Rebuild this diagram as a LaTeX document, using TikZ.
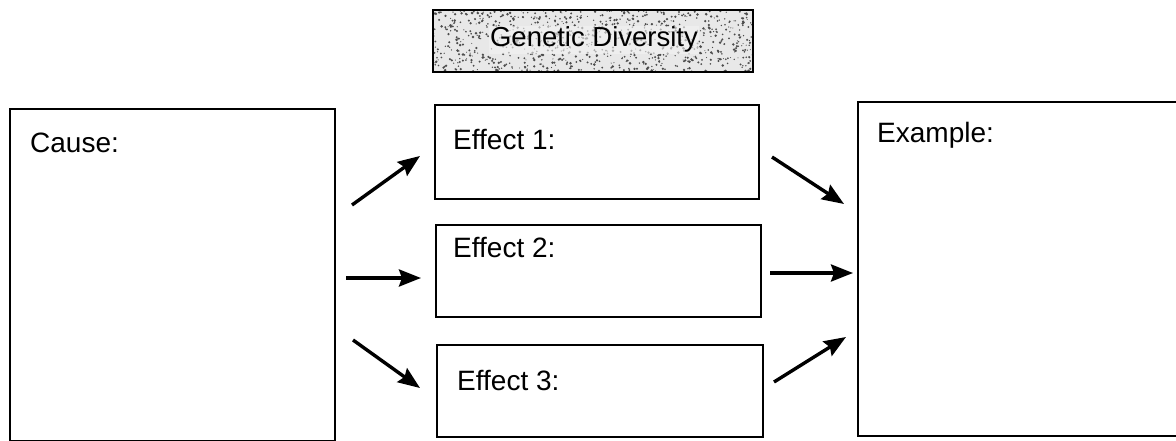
\documentclass[tikz,border=0pt]{standalone}
\usepackage{fontspec}
\setmainfont{Liberation Sans}
\usetikzlibrary{arrows.meta}
\begin{document}
\begin{tikzpicture}[x=1pt,y=-1pt,
  frame/.style={draw=black,line width=2.4pt,fill=none},
  lbl/.style={anchor=base west,inner sep=0pt,font=\fontsize{28}{32}\selectfont},
  conn/.style={line width=3.4pt,-{Stealth[length=22pt,width=17pt,inset=3pt]}}]
  % page area
  \fill[white] (0,0) rectangle (1176,441);
  \useasboundingbox (0,0) rectangle (1176,441);
  \clip (0,0) rectangle (1176,441);

  % title banner with speckled fill
  \fill[gray!18] (433,10) rectangle (753,72);
  \begin{scope}
    \clip (433,10) rectangle (753,72);
    \pgfmathsetseed{42}
    \foreach \i in {1,...,900}{
      \pgfmathsetmacro{\px}{433+320*rnd}
      \pgfmathsetmacro{\py}{10+62*rnd}
      \pgfmathsetmacro{\pr}{0.5+0.9*rnd}
      \fill[black!70] (\px,\py) circle[radius=\pr];
    }
  \end{scope}
  \node[draw=black,line width=2pt,minimum width=320pt,minimum height=62pt,inner sep=0pt] (title) at (593,41) {};
  \node[anchor=base,inner sep=1pt,fill=gray!10,fill opacity=0.6,text opacity=1,font=\fontsize{27.5}{32}\selectfont] (titletext) at (594,47) {Genetic Diversity};

  % boxes
  \draw[frame] (10,109) rectangle (335,441);
  \coordinate (cause) at (10,109);
  \draw[frame] (435,105) rectangle (759,199);
  \coordinate (e1) at (435,105);
  \draw[frame] (436,225) rectangle (761,317);
  \coordinate (e2) at (436,225);
  \draw[frame] (437,345) rectangle (763,437);
  \coordinate (e3) at (437,345);
  \draw[frame] (858,102) rectangle (1190,436);
  \coordinate (ex) at (858,102);

  % labels
  \node[lbl] (causel) at (30,153) {Cause:};
  \node[lbl] (e1l) at (453,150) {Effect 1:};
  \node[lbl] (e2l) at (453,257) {Effect 2:};
  \node[lbl] (e3l) at (457,390) {Effect 3:};
  \node[lbl] (exl) at (877,143) {Example:};

  % arrow ends
  \coordinate (a1s) at (352,205); \coordinate (a1e) at (420,156);
  \coordinate (a2s) at (346,278); \coordinate (a2e) at (421,278);
  \coordinate (a3s) at (353,340); \coordinate (a3e) at (420,388);
  \coordinate (b1s) at (772,157); \coordinate (b1e) at (844,204);
  \coordinate (b2s) at (770,273); \coordinate (b2e) at (853,273);
  \coordinate (b3s) at (774,382); \coordinate (b3e) at (846,337);

  \draw[conn] (a1s) -- (a1e);
  \draw[conn] (a2s) -- (a2e);
  \draw[conn] (a3s) -- (a3e);
  \draw[conn] (b1s) -- (b1e);
  \draw[conn] (b2s) -- (b2e);
  \draw[conn] (b3s) -- (b3e);
\end{tikzpicture}
\end{document}
